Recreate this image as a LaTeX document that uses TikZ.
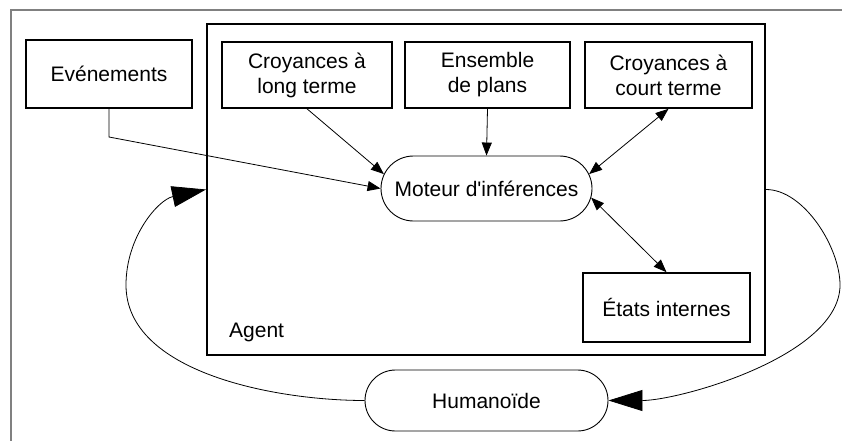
\documentclass[tikz,border=0pt]{standalone}
\usepackage{fontspec}
\setmainfont{Liberation Sans}[Ligatures=TeXOff]
\usetikzlibrary{arrows.meta,shapes.misc}
\begin{document}
\begin{tikzpicture}[x=1pt,y=-1pt,
  font=\fontsize{21}{25}\selectfont,
  box/.style={draw, line width=1.6pt, inner sep=0pt, align=center},
  stad/.style={draw, line width=0.9pt, rounded rectangle, inner sep=0pt},
  conn/.style={line width=0.8pt, -{Triangle[length=13pt,width=10pt]}},
  dconn/.style={line width=0.8pt, {Triangle[length=13pt,width=10pt]}-{Triangle[length=13pt,width=10pt]}},
  big/.style={line width=0.8pt, -{Triangle[length=34pt,width=21pt]}}]
\useasboundingbox (0,0) rectangle (842,441);
\draw[color=gray, line width=1.6pt] (842,10) -- (11,10) -- (11,441);
% agent box
\node[draw, line width=2pt, minimum width=558pt, minimum height=331pt, inner sep=0pt] (A) at (486,189.5) {};
\node[anchor=base west, inner sep=0pt] (AL) at (229,337) {Agent};
% boxes
\node[box, minimum width=166pt, minimum height=68pt] (E) at (109,74) {Evénements};
\node[box, minimum width=170pt, minimum height=66pt] (L) at (307,75) {Croyances à\\long terme};
\node[box, minimum width=165pt, minimum height=66pt] (P) at (487.5,75) {Ensemble\\de plans};
\node[box, minimum width=167pt, minimum height=66pt] (C) at (668.5,75) {Croyances à\\court terme};
\node[box, minimum width=167pt, minimum height=69pt] (S) at (666.5,307.5) {États internes};
\node[stad, minimum width=211pt, minimum height=65pt] (M) at (486.5,188.5) {Moteur d'inférences};
\node[stad, minimum width=243pt, minimum height=61pt] (H) at (486.5,400.5) {Humanoïde};
\coordinate (EK) at (109,137);
% connectors
\draw[conn] (E.south) -- (EK) -- (M.west);
\draw[conn] (L.south) -- (M.172);
\draw[conn] (P.south) -- (M.north);
\draw[dconn] (C.south) -- (M.8);
\draw[dconn] (M.-5) -- (S.north);
\coordinate (RB) at (840,285);
\coordinate (LB) at (126,285);
\draw[big] (A.east) to[out=0,in=90,looseness=0.8] (RB) to[out=-90,in=0,looseness=0.7] (H.east);
\draw[big] (H.west) to[out=180,in=-90,looseness=0.85] (LB) to[out=90,in=192] (A.west);
\end{tikzpicture}
\end{document}
